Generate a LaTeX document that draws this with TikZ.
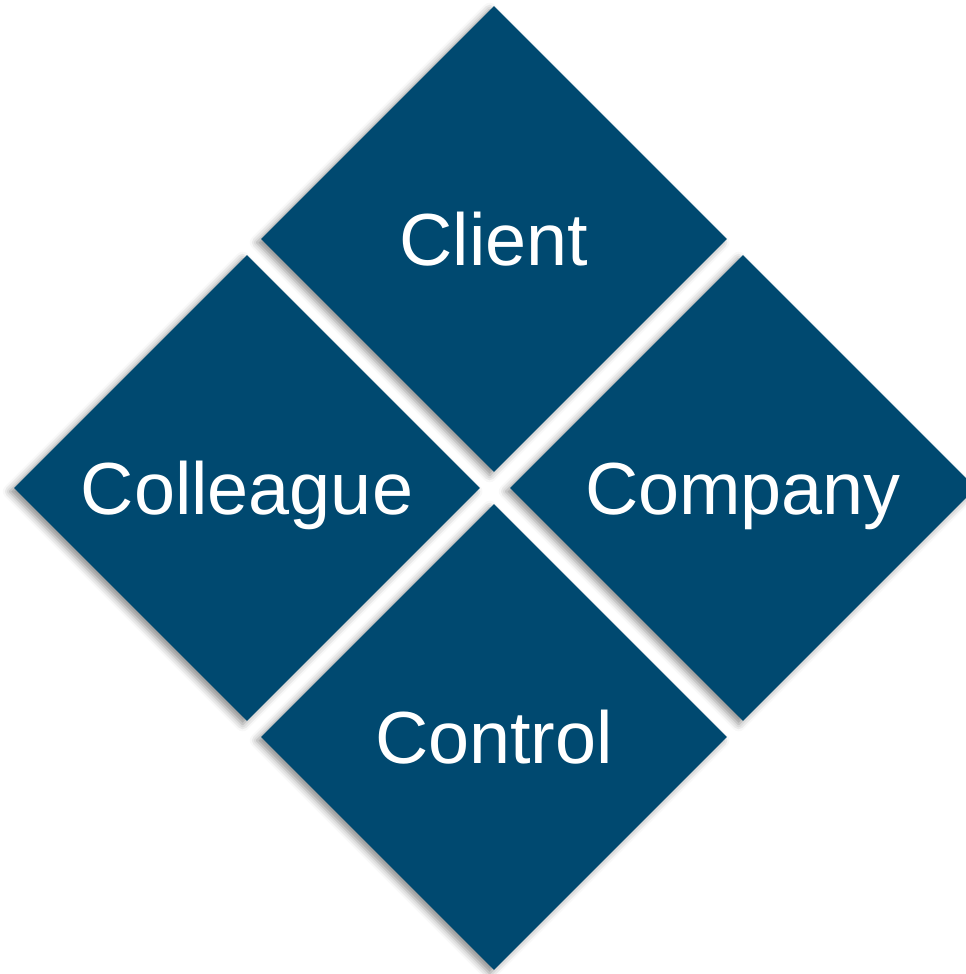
\documentclass[tikz,border=0pt]{standalone}
\usepackage{fontspec}
\setmainfont{Liberation Sans}
\usetikzlibrary{shapes.geometric, shadows.blur}
\definecolor{DeepTeal}{HTML}{004970}

\begin{document}
\begin{tikzpicture}[x=0.02cm, y=-0.02cm,
  tile/.style={diamond, aspect=1, fill=DeepTeal, inner sep=0pt,
    minimum width=9.32cm, minimum height=9.32cm,
    text=white, font=\fontsize{42}{48}\selectfont, text height=30pt, text depth=0pt,
    blur shadow={shadow xshift=-2.5pt, shadow yshift=-2pt, shadow blur radius=4pt, shadow opacity=45}}]
  \useasboundingbox (0,0) rectangle (966,974);
  \clip (0,0) rectangle (966,974);

  % four tiles around the centre
  \node (client) [tile] at (494,239) {Client};
  \node (colleague) [tile] at (247,488) {Colleague};
  \node (company) [tile] at (743,488) {Company};
  \node (control) [tile] at (494,737) {Control};
\end{tikzpicture}
\end{document}
